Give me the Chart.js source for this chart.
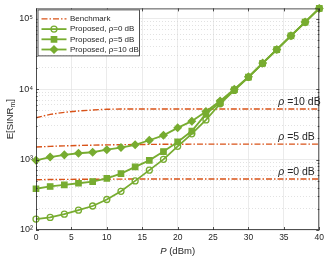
<!DOCTYPE html>
<html lang="en">
<head>
<meta charset="UTF-8">
<title>E[SINR] vs P</title>
<script src="https://cdn.jsdelivr.net/npm/chart.js@4"></script>
<style>
  body { margin: 0; background: #fff; }
  .wrap { width: 327px; height: 257px; position: relative; }
</style>
</head>
<body>
<div class="wrap"><canvas id="sinrChart"></canvas></div>
<script>
// data (P in dBm, E[SINR] linear)
const powerDbm = [0,2,4,6,8,10,12,14,16,18,20,22,24,26,28,30,32,34,36,38,40];
const proposedRho0 = [143,151,168,191,219,271,354,498,708,1007,1540,2320,3650,6200,9600,14700,23200,36300,57000,89000,140000];
const proposedRho5 = [385,415,438,461,487,541,631,787,975,1300,1780,2540,4450,6450,9800,14800,23300,36400,57200,89300,140000];
const proposedRho10 = [975,1085,1166,1230,1270,1380,1480,1620,1880,2210,2820,3510,4800,6800,9950,14950,23400,36500,57400,89500,140000];
const benchRho0 = [518,521,523,525,526,527,528,529,529,530,530,530,530,530,530,530,530,530,530,530,530];
const benchRho5 = [1505,1540,1565,1585,1600,1615,1625,1635,1642,1648,1652,1655,1656,1656,1656,1656,1656,1656,1656,1656,1656];
const benchRho10 = [3920,4385,4680,4900,5060,5180,5220,5220,5220,5220,5220,5220,5220,5220,5220,5220,5220,5220,5220,5220,5220];

const xTicks = [0,5,10,15,20,25,30,35,40];
const yDecades = [100,1000,10000,100000];
const yDecadeLabels = ['10²','10³','10⁴','10⁵'];
const benchNotes = ['ρ =0 dB', 'ρ =5 dB', 'ρ =10 dB'];

const GREEN = '#77ac30';
const ORANGE = '#d95319';
const AXIS = '#262626';
const FONT = '"Liberation Sans", Arial, sans-serif';

// minor ticks 2..9 for each decade
const yTickVals = [];
yDecades.forEach(d => { for (let k = 1; k <= 9; k++) if (d * k <= 140000) yTickVals.push(d * k); });
const isDecade = v => yDecades.includes(v);

const pts = arr => powerDbm.map((p, i) => ({ x: p, y: arr[i] }));

function greenSet(label, arr, style, filled, r) {
    return {
        label: label, data: pts(arr), inLegend: true,
        borderColor: GREEN, borderWidth: 1.8,
        pointStyle: style, pointRadius: r, pointBorderWidth: 1.3,
        pointBorderColor: GREEN, pointBackgroundColor: filled ? GREEN : 'rgba(0,0,0,0)',
        tension: 0, clip: false
    };
}
function benchSet(arr, first) {
    return {
        label: 'Benchmark', data: pts(arr), inLegend: first,
        borderColor: ORANGE, borderWidth: 1.4, borderDash: [6,2,1.5,2],
        pointRadius: 0, tension: 0
    };
}

// draws a marker the way the plot does
function marker(ctx, style, x, y, r, filled) {
    ctx.beginPath();
    if (style === 'circle') {
        ctx.arc(x, y, r, 0, Math.PI * 2);
    } else if (style === 'rect') {
        const s = r * Math.SQRT1_2;
        ctx.rect(x - s, y - s, 2 * s, 2 * s);
    } else {
        ctx.moveTo(x, y - r); ctx.lineTo(x + r, y); ctx.lineTo(x, y + r); ctx.lineTo(x - r, y); ctx.closePath();
    }
    if (filled) ctx.fill();
    ctx.stroke();
}

// italic rho followed by the rest of the string
function rhoText(ctx, str, x, y, size) {
    let cx = x;
    if (str.startsWith('ρ')) {
        ctx.font = 'italic ' + size + 'px ' + FONT;
        ctx.fillText('ρ', cx, y);
        cx += ctx.measureText('ρ').width;
        str = str.slice(1);
    }
    ctx.font = size + 'px ' + FONT;
    ctx.fillText(str, cx, y);
}

const frame = {
    id: 'frame',
    afterDatasetsDraw(chart) {
        const ctx = chart.ctx, a = chart.chartArea;
        const xs = chart.scales.x, ys = chart.scales.y;
        ctx.save();
        ctx.strokeStyle = AXIS;
        ctx.lineWidth = 0.8;
        ctx.strokeRect(a.left + 0.5, a.top + 0.5, a.right - a.left - 1, a.bottom - a.top - 1);
        ctx.beginPath();
        xTicks.forEach(t => {
            const px = Math.round(xs.getPixelForValue(t)) + 0.5;
            ctx.moveTo(px, a.bottom); ctx.lineTo(px, a.bottom - 3);
            ctx.moveTo(px, a.top); ctx.lineTo(px, a.top + 3);
        });
        yTickVals.forEach(t => {
            const py = Math.round(ys.getPixelForValue(t)) + 0.5;
            const len = isDecade(t) ? 3 : 1.6;
            ctx.moveTo(a.left, py); ctx.lineTo(a.left + len, py);
            ctx.moveTo(a.right, py); ctx.lineTo(a.right - len, py);
        });
        ctx.stroke();
        ctx.restore();
    },
    afterDraw(chart) {
        const ctx = chart.ctx, a = chart.chartArea;
        const xs = chart.scales.x, ys = chart.scales.y;
        ctx.save();
        ctx.fillStyle = AXIS;
        ctx.textBaseline = 'alphabetic';

        // notes next to the benchmark lines
        const lastOf = [benchRho0, benchRho5, benchRho10];
        benchNotes.forEach((txt, i) => {
            const arr = lastOf[i];
            const py = ys.getPixelForValue(arr[arr.length - 1]) - 4;
            rhoText(ctx, txt, xs.getPixelForValue(34.2), py, 10.5);
        });

        // axis titles
        ctx.textBaseline = 'middle';
        ctx.font = 'italic 9.5px ' + FONT;
        const wP = ctx.measureText('P').width;
        ctx.font = '9.5px ' + FONT;
        const wRest = ctx.measureText(' (dBm)').width;
        const tx = (a.left + a.right) / 2 - (wP + wRest) / 2;
        ctx.font = 'italic 9.5px ' + FONT;
        ctx.fillText('P', tx, 251);
        ctx.font = '9.5px ' + FONT;
        ctx.fillText(' (dBm)', tx + wP, 251);

        ctx.save();
        ctx.translate(10, (a.top + a.bottom) / 2);
        ctx.rotate(-Math.PI / 2);
        ctx.font = '9.5px ' + FONT;
        const w1 = ctx.measureText('E[SINR').width;
        const w3 = ctx.measureText(']').width;
        ctx.font = '7px ' + FONT;
        const w2 = ctx.measureText('m').width;
        let sx = -(w1 + w2 + w3) / 2;
        ctx.font = '9.5px ' + FONT;
        ctx.fillText('E[SINR', sx, 0);
        ctx.font = '7px ' + FONT;
        ctx.fillText('m', sx + w1, 3);
        ctx.font = '9.5px ' + FONT;
        ctx.fillText(']', sx + w1 + w2, 0);
        ctx.restore();

        // legend box
        const x0 = a.left + 1.5, y0 = a.top + 1, w = 101.5, h = 46;
        ctx.fillStyle = '#fff';
        ctx.fillRect(x0, y0, w, h);
        ctx.strokeStyle = AXIS;
        ctx.lineWidth = 0.8;
        ctx.strokeRect(x0 + 0.5, y0 + 0.5, w, h);
        const entries = [];
        chart.data.datasets.forEach(ds => { if (ds.inLegend) entries.push(ds); });
        // benchmark first, then proposed in plotting order
        entries.sort((p, q) => (p.label === 'Benchmark' ? -1 : 0) - (q.label === 'Benchmark' ? -1 : 0));
        entries.forEach((ds, i) => {
            const ly = y0 + 9.5 + i * 10.2;
            ctx.save();
            ctx.strokeStyle = ds.borderColor;
            ctx.lineWidth = ds.borderWidth;
            ctx.setLineDash(ds.borderDash || []);
            ctx.beginPath();
            ctx.moveTo(x0 + 4, ly); ctx.lineTo(x0 + 29, ly);
            ctx.stroke();
            ctx.setLineDash([]);
            if (ds.pointRadius > 0) {
                ctx.lineWidth = ds.pointBorderWidth;
                ctx.fillStyle = ds.pointBackgroundColor;
                marker(ctx, ds.pointStyle, x0 + 16.5, ly, ds.pointRadius, ds.pointBackgroundColor === GREEN);
            }
            ctx.restore();
            ctx.fillStyle = AXIS;
            ctx.textBaseline = 'middle';
            ctx.font = '8px ' + FONT;
            ctx.fillText(ds.label, x0 + 32.5, ly);
        });
        ctx.restore();
    }
};

new Chart(document.getElementById('sinrChart'), {
    type: 'line',
    data: {
        datasets: [
            greenSet('Proposed, ρ=0 dB', proposedRho0, 'circle', false, 3),
            greenSet('Proposed, ρ=5 dB', proposedRho5, 'rect', true, 3.8),
            greenSet('Proposed, ρ=10 dB', proposedRho10, 'rectRot', true, 3.6),
            benchSet(benchRho0, true),
            benchSet(benchRho5, false),
            benchSet(benchRho10, false)
        ]
    },
    options: {
        responsive: true,
        maintainAspectRatio: false,
        animation: false,
        layout: { padding: { top: 3, right: 6, left: 0, bottom: 0 } },
        plugins: { legend: { display: false }, tooltip: { enabled: false } },
        scales: {
            x: {
                type: 'linear', min: 0, max: 40,
                afterFit: s => { s.height = 27; },
                ticks: { stepSize: 5, maxRotation: 0, padding: 3, color: AXIS, font: { family: FONT, size: 8.5 } },
                grid: { color: '#e2e2e2', lineWidth: 0.7, drawTicks: false },
                border: { display: false }
            },
            y: {
                type: 'logarithmic', min: 100, max: 140000,
                afterFit: s => { s.width = 36; },
                afterBuildTicks: s => { s.ticks = yTickVals.map(v => ({ value: v })); },
                ticks: {
                    autoSkip: false, padding: 3, color: AXIS, font: { family: FONT, size: 9 },
                    callback: v => isDecade(v) ? yDecadeLabels[yDecades.indexOf(v)] : ''
                },
                grid: {
                    drawTicks: false,
                    color: c => isDecade(c.tick.value) ? '#e2e2e2' : '#cfcfcf',
                    lineWidth: c => isDecade(c.tick.value) ? 0.7 : 0.6
                },
                border: { display: false, dash: c => isDecade(c.tick.value) ? [] : [1, 2] }
            }
        }
    },
    plugins: [frame]
});
</script>
</body>
</html>
